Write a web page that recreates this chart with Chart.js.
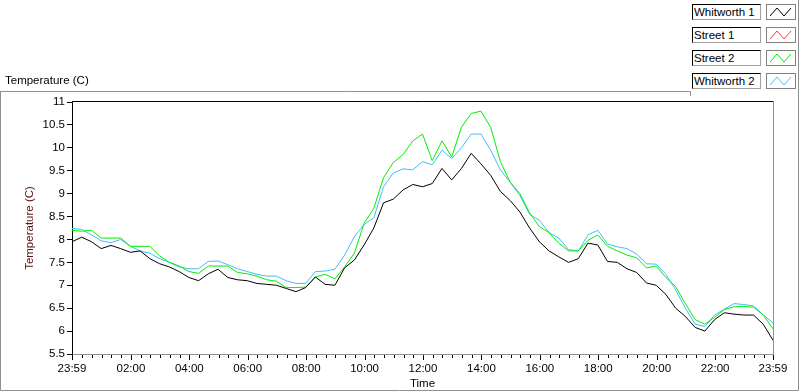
<!DOCTYPE html>
<html>
<head>
<meta charset="utf-8">
<script src="https://cdn.jsdelivr.net/npm/chart.js@4.4.1/dist/chart.umd.min.js"></script>
<style>
  html, body { margin: 0; padding: 0; background: #fff; }
  body { width: 800px; height: 392px; position: relative; overflow: hidden; font-family: "Liberation Sans", Arial, sans-serif; }
  #wrap { position: absolute; left: 0; top: 0; width: 800px; height: 392px; }
  #title { position: absolute; left: 5px; top: 74px; font-size: 11.5px; color: #000; }
  .lg-text { position: absolute; left: 692px; width: 69px; height: 16px; box-sizing: border-box;
    border: 1px solid #000; border-right-color: #a0a0a0; border-bottom-color: #a0a0a0; background: #fff;
    font-size: 11.5px; line-height: 14px; padding-left: 1px; color: #000; white-space: nowrap; }
  .lg-icon { position: absolute; left: 766px; width: 30px; height: 16px; box-sizing: border-box;
    border: 1px solid #808080; background: #fff; }
  .lg-icon svg { position: absolute; left: 1px; top: 1px; }
</style>
</head>
<body>
<div id="wrap"><canvas id="c" width="800" height="392"></canvas></div>
<div id="title">Temperature (C)</div>
<div id="legend"></div>
<script>
// ---- data (minutes after the 23:59 start, sampled every 20 min) ----
const times = [0,20,40,60,80,100,120,140,160,180,200,220,240,260,280,300,320,340,360,380,400,420,440,460,480,500,520,540,560,580,600,620,640,660,680,700,720,740,760,780,800,820,840,860,880,900,920,940,960,980,1000,1020,1040,1060,1080,1100,1120,1140,1160,1180,1200,1220,1240,1260,1280,1300,1320,1340,1360,1380,1400,1420,1440];

const whitworth1 = [7.95,8.05,7.95,7.80,7.87,7.80,7.72,7.75,7.58,7.47,7.40,7.30,7.17,7.10,7.25,7.35,7.17,7.12,7.10,7.04,7.02,7.00,6.93,6.86,6.95,7.18,7.02,7.00,7.38,7.55,7.88,8.25,8.80,8.88,9.08,9.20,9.15,9.22,9.55,9.30,9.55,9.88,9.65,9.40,9.05,8.85,8.60,8.25,7.95,7.75,7.62,7.50,7.58,7.92,7.88,7.52,7.50,7.36,7.28,7.05,7.00,6.80,6.50,6.32,6.08,6.00,6.25,6.40,6.37,6.35,6.35,6.15,5.80];

const street1 = [];

const street2 = [8.20,8.18,8.20,8.03,8.03,8.03,7.85,7.85,7.85,7.64,7.50,7.42,7.30,7.26,7.42,7.42,7.42,7.28,7.25,7.20,7.12,7.09,6.95,6.95,6.96,7.18,7.24,7.14,7.40,7.70,8.35,8.68,9.35,9.68,9.85,10.15,10.30,9.72,10.15,9.80,10.45,10.75,10.80,10.45,9.70,9.25,9.00,8.58,8.28,8.15,7.92,7.75,7.75,7.98,8.10,7.85,7.75,7.66,7.60,7.38,7.42,7.17,6.97,6.60,6.25,6.15,6.30,6.47,6.53,6.54,6.52,6.35,6.05];

const whitworth2 = [8.24,8.22,8.10,7.97,7.93,8.00,7.85,7.75,7.70,7.58,7.50,7.40,7.36,7.36,7.52,7.53,7.45,7.36,7.30,7.24,7.20,7.20,7.10,7.04,7.04,7.30,7.31,7.35,7.66,8.06,8.33,8.47,9.15,9.45,9.54,9.52,9.70,9.63,9.95,9.76,10.00,10.30,10.30,9.95,9.52,9.25,8.96,8.55,8.42,8.15,8.03,7.78,7.75,8.10,8.20,7.90,7.84,7.80,7.68,7.47,7.46,7.24,6.90,6.50,6.15,6.10,6.35,6.48,6.60,6.58,6.55,6.35,6.18];

const seriesNames = ["Whitworth 1", "Street 1", "Street 2", "Whitworth 2"];
const seriesColors = ["#000000", "#ff4040", "#00ee00", "#44bbff"];
const yTicks = [5.5,6,6.5,7,7.5,8,8.5,9,9.5,10,10.5,11];
const startLabel = "23:59";
const endLabel = "23:59";

// tick positions: start, every 20 clock-minutes from 00:20 to 23:40, end
const xTickValues = [0];
for (let m = 20; m <= 1420; m += 20) xTickValues.push(m + 1);
xTickValues.push(1440);

function fmtTime(v) {
  if (v === 0) return startLabel;
  if (v === 1440) return endLabel;
  const clock = v - 1;
  if (clock % 120 !== 0) return '';
  const h = Math.floor(clock / 60), mm = clock % 60;
  return String(h).padStart(2, '0') + ':' + String(mm).padStart(2, '0');
}

function pts(arr) { return arr.map((v, i) => ({ x: times[i], y: v })); }

const allSeries = [whitworth1, street1, street2, whitworth2];
const datasets = allSeries.map((arr, i) => ({
  label: seriesNames[i],
  data: pts(arr),
  borderColor: seriesColors[i],
  backgroundColor: seriesColors[i],
  borderWidth: 1,
  pointRadius: 0,
  tension: 0,
  fill: false
}));
// draw order: blue back, then green, then black on top
datasets[0].order = 0; datasets[2].order = 1; datasets[3].order = 2; datasets[1].order = 3;

const FONT = { family: '"Liberation Sans", Arial, sans-serif', size: 11.5 };

const framePlugin = {
  id: 'frame',
  afterDraw(chart) {
    const ctx = chart.ctx, a = chart.chartArea, xs = chart.scales.x;
    ctx.save();
    // outer panel
    ctx.strokeStyle = '#909090'; ctx.lineWidth = 1;
    ctx.beginPath();
    ctx.moveTo(0, 91.5); ctx.lineTo(690.5, 91.5); ctx.lineTo(690.5, 96);
    ctx.moveTo(0.5, 91.5); ctx.lineTo(0.5, 390.5); ctx.lineTo(798.5, 390.5);
    ctx.moveTo(798.5, 0); ctx.lineTo(798.5, 390.5);
    ctx.stroke();
    // plot box: top black, right gray
    ctx.strokeStyle = '#000';
    ctx.beginPath(); ctx.moveTo(a.left, Math.round(a.top) - 0.5); ctx.lineTo(a.right + 0.5, Math.round(a.top) - 0.5); ctx.stroke();
    ctx.strokeStyle = '#909090';
    ctx.beginPath(); ctx.moveTo(Math.round(a.right) + 0.5, a.top); ctx.lineTo(Math.round(a.right) + 0.5, a.bottom); ctx.stroke();
    // x ticks (major longer than minor)
    ctx.strokeStyle = '#000';
    xTickValues.forEach(v => {
      const px = Math.round(xs.getPixelForValue(v)) + 0.5;
      const major = fmtTime(v) !== '';
      ctx.beginPath();
      ctx.moveTo(px, a.bottom + 1);
      ctx.lineTo(px, a.bottom + (major ? 6 : 4));
      ctx.stroke();
    });
    ctx.restore();
  }
};

new Chart(document.getElementById('c'), {
  type: 'line',
  data: { datasets },
  options: {
    responsive: false,
    animation: false,
    layout: { padding: { top: 102, right: 27, left: 0, bottom: 0 } },
    plugins: { legend: { display: false }, tooltip: { enabled: false }, title: { display: false } },
    scales: {
      x: {
        type: 'linear', min: 0, max: 1440,
        afterBuildTicks(scale) { scale.ticks = xTickValues.map(v => ({ value: v })); },
        afterFit(scale) { scale.height = 38; },
        grid: { display: true, drawOnChartArea: false, drawTicks: false },
        border: { display: true, color: '#909090', width: 1 },
        ticks: {
          autoSkip: false, maxRotation: 0, minRotation: 0, padding: 8,
          color: '#000', font: FONT,
          callback: (v) => fmtTime(v)
        },
        title: { display: true, text: 'Time', color: '#000', font: FONT, padding: { top: 0, bottom: 1 } }
      },
      y: {
        type: 'linear', min: 5.5, max: 11,
        afterBuildTicks(scale) { scale.ticks = yTicks.map(v => ({ value: v })); },
        afterFit(scale) { scale.width = 72; },
        grid: { display: true, drawOnChartArea: false, drawTicks: true, tickLength: 5, tickColor: '#000' },
        border: { display: true, color: '#000', width: 1 },
        ticks: { color: '#000', font: FONT, padding: 2, callback: (v) => String(Number(v)) },
        title: { display: true, text: 'Temperature (C)', color: '#5a1414', font: FONT, padding: { top: 23, bottom: 0 } }
      }
    }
  },
  plugins: [framePlugin]
});

// legend
const lg = document.getElementById('legend');
seriesNames.forEach((name, i) => {
  const top = 4 + i * 23;
  const t = document.createElement('div');
  t.className = 'lg-text'; t.style.top = top + 'px'; t.textContent = name;
  const ic = document.createElement('div');
  ic.className = 'lg-icon'; ic.style.top = top + 'px';
  ic.innerHTML = '<svg width="27" height="13"><polyline points="2,10 9,2 16,10 23,2" fill="none" stroke="' + seriesColors[i] + '" stroke-width="1"/></svg>';
  lg.appendChild(t); lg.appendChild(ic);
});
</script>
</body>
</html>
